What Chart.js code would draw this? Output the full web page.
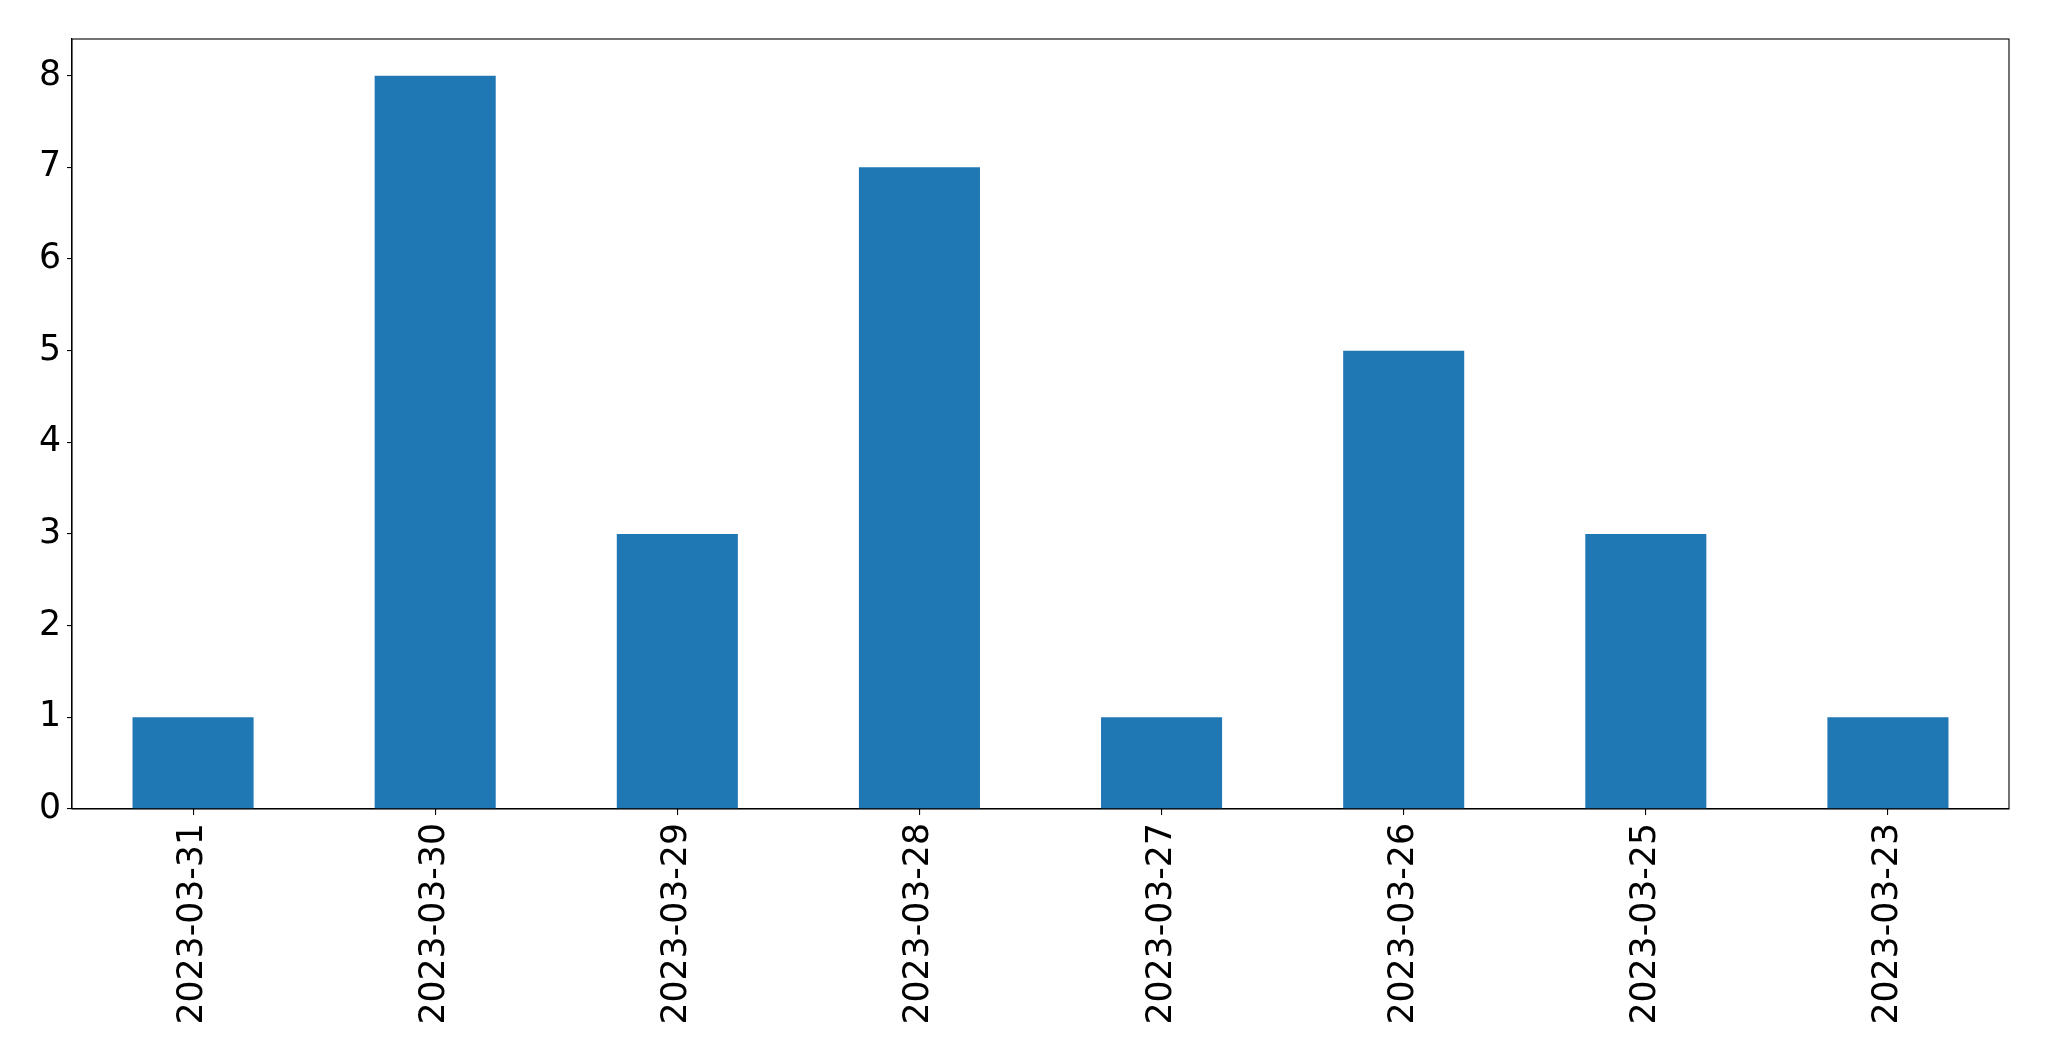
<!DOCTYPE html>
<html>
<head>
<meta charset="utf-8">
<script src="https://cdn.jsdelivr.net/npm/chart.js@4/dist/chart.umd.min.js"></script>
<style>
  html, body { margin: 0; padding: 0; background: #fff; }
  #wrap { width: 2049px; height: 1061px; }
</style>
</head>
<body>
<div id="wrap"><canvas id="c" width="2049" height="1061"></canvas></div>
<script>
const categories = ["2023-03-31", "2023-03-30", "2023-03-29", "2023-03-28", "2023-03-27", "2023-03-26", "2023-03-25", "2023-03-23"];
const counts = [1, 8, 3, 7, 1, 5, 3, 1];
const yTicks = [0, 1, 2, 3, 4, 5, 6, 7, 8];

const FONT = { family: "'DejaVu Sans'", size: 34.7 };

const framePlugin = {
  id: 'frame',
  afterDraw(chart) {
    const { ctx, chartArea: a } = chart;
    ctx.save();
    ctx.strokeStyle = '#000';
    ctx.lineWidth = 1.1;
    ctx.strokeRect(a.left, a.top, a.right - a.left, a.bottom - a.top);
    ctx.restore();
  }
};

new Chart(document.getElementById('c'), {
  type: 'bar',
  data: {
    labels: categories,
    datasets: [{
      data: counts,
      backgroundColor: '#1f77b4',
      borderWidth: 0,
      barPercentage: 0.5,
      categoryPercentage: 1.0
    }]
  },
  plugins: [framePlugin],
  options: {
    responsive: false,
    animation: false,
    devicePixelRatio: 1,
    layout: { padding: { top: 39, right: 40, left: 0, bottom: 0 } },
    plugins: { legend: { display: false }, tooltip: { enabled: false }, title: { display: false } },
    scales: {
      x: {
        type: 'category',
        offset: true,
        grid: { display: true, drawOnChartArea: false, drawTicks: true, tickLength: 6, color: '#000', lineWidth: 1.1, offset: false },
        border: { display: true, color: '#000', width: 1.1 },
        ticks: { color: '#000', font: FONT, minRotation: 90, maxRotation: 90, padding: 8, autoSkip: false },
        afterFit(scale) { scale.height = 252; }
      },
      y: {
        min: 0,
        max: 8.4,
        grid: { display: true, drawOnChartArea: false, drawTicks: true, tickLength: 5, color: '#000', lineWidth: 1.1 },
        border: { display: true, color: '#000', width: 1.1 },
        ticks: { color: '#000', font: FONT, padding: 6 },
        afterBuildTicks(scale) { scale.ticks = yTicks.map(v => ({ value: v })); },
        afterFit(scale) { scale.width = 72; }
      }
    }
  }
});
</script>
</body>
</html>
